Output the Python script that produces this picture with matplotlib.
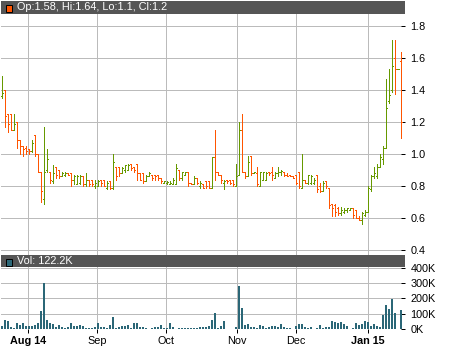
import matplotlib
matplotlib.use('Agg')
import matplotlib.pyplot as plt
from matplotlib.collections import LineCollection
from matplotlib.patches import Rectangle

# ---------------- data ----------------
opens = [1.36, 1.40, 1.25, 1.25, 1.15, 1.20, 1.09, 1.05, 1.04, 1.03,
         1.02, 1.12, 1.00, 0.89, 0.72, 0.90, 0.89, 0.83, 0.92, 0.90,
         0.86, 0.87, 0.88, 0.88, 0.84, 0.81, 0.82, 0.86, 0.81, 0.84,
         0.84, 0.80, 0.80, 0.84, 0.84, 0.79, 0.83, 0.79, 0.92, 0.92,
         0.88, 0.90, 0.90, 0.94, 0.92, 0.94, 0.88, 0.88, 0.83, 0.86,
         0.87, 0.87, 0.87, 0.85, 0.82, 0.82, 0.81, 0.81, 0.81, 0.90,
         0.85, 0.87, 0.89, 0.82, 0.81, 0.85, 0.80, 0.81, 0.83, 0.83,
         0.79, 0.98, 0.89, 0.87, 0.82, 0.84, 0.84, 0.84, 0.80, 0.87,
         1.15, 0.89, 0.86, 0.99, 0.88, 0.88, 0.80, 0.84, 0.84, 0.89,
         0.89, 0.85, 0.88, 0.89, 0.89, 0.87, 0.87, 0.86, 0.87, 0.89,
         0.79, 0.84, 0.82, 0.82, 0.82, 0.87, 0.80, 0.77, 0.83, 0.79,
         0.69, 0.68, 0.66, 0.63, 0.64, 0.65, 0.65, 0.66, 0.65, 0.60,
         0.59, 0.62, 0.64, 0.78, 0.86, 0.86, 0.92, 0.97, 1.04, 1.33,
         1.40, 1.60, 1.53, 1.58]
highs = [1.49, 1.40, 1.25, 1.25, 1.25, 1.20, 1.09, 1.05, 1.05, 1.03,
         1.09, 1.12, 1.00, 0.89, 1.17, 1.03, 0.89, 0.93, 0.92, 0.90,
         0.89, 0.89, 0.88, 0.88, 0.87, 0.87, 0.87, 0.86, 0.88, 0.84,
         0.84, 0.84, 0.84, 0.84, 0.84, 0.83, 0.83, 1.00, 0.92, 0.92,
         0.92, 0.93, 0.94, 0.94, 0.92, 0.94, 0.88, 0.88, 0.87, 0.89,
         0.87, 0.87, 0.87, 0.85, 0.83, 0.83, 0.83, 0.85, 0.94, 0.90,
         0.89, 0.89, 0.89, 0.82, 0.86, 0.85, 0.83, 0.81, 0.83, 0.83,
         0.98, 1.15, 0.89, 0.87, 0.84, 0.84, 0.84, 0.84, 0.94, 1.20,
         1.25, 0.89, 0.99, 0.99, 0.89, 0.92, 0.89, 0.89, 0.89, 0.89,
         0.92, 0.89, 0.92, 0.90, 0.89, 0.88, 0.87, 0.86, 0.87, 0.89,
         1.00, 0.84, 0.87, 0.87, 0.85, 0.87, 0.82, 0.83, 0.83, 0.79,
         0.69, 0.69, 0.67, 0.67, 0.66, 0.66, 0.66, 0.66, 0.65, 0.61,
         0.64, 0.65, 0.80, 0.87, 0.92, 0.94, 1.00, 1.05, 1.47, 1.53,
         1.71, 1.71, 1.53, 1.64]
lows = [1.35, 1.17, 1.14, 1.15, 1.15, 1.04, 1.00, 0.99, 1.00, 1.00,
        1.01, 0.99, 0.89, 0.70, 0.69, 0.89, 0.82, 0.82, 0.85, 0.85,
        0.86, 0.86, 0.87, 0.80, 0.81, 0.81, 0.81, 0.80, 0.80, 0.80,
        0.80, 0.79, 0.80, 0.80, 0.80, 0.78, 0.78, 0.78, 0.84, 0.86,
        0.88, 0.89, 0.90, 0.90, 0.89, 0.84, 0.84, 0.82, 0.83, 0.86,
        0.84, 0.84, 0.84, 0.82, 0.82, 0.81, 0.81, 0.81, 0.81, 0.84,
        0.84, 0.87, 0.80, 0.81, 0.81, 0.81, 0.79, 0.79, 0.79, 0.79,
        0.79, 0.84, 0.87, 0.82, 0.78, 0.82, 0.81, 0.80, 0.80, 0.87,
        0.89, 0.85, 0.86, 0.87, 0.88, 0.80, 0.80, 0.84, 0.84, 0.87,
        0.84, 0.85, 0.86, 0.87, 0.86, 0.86, 0.86, 0.85, 0.81, 0.79,
        0.79, 0.82, 0.81, 0.81, 0.81, 0.76, 0.76, 0.77, 0.79, 0.66,
        0.61, 0.61, 0.62, 0.62, 0.63, 0.64, 0.65, 0.60, 0.60, 0.59,
        0.56, 0.61, 0.64, 0.77, 0.85, 0.85, 0.92, 0.94, 1.04, 1.32,
        1.39, 1.375, 1.53, 1.10]
closes = [1.38, 1.24, 1.19, 1.15, 1.19, 1.09, 1.05, 1.03, 1.02, 1.02,
          1.07, 1.00, 0.89, 0.77, 0.89, 0.97, 0.84, 0.88, 0.87, 0.86,
          0.88, 0.88, 0.87, 0.84, 0.86, 0.86, 0.86, 0.81, 0.84, 0.81,
          0.81, 0.82, 0.83, 0.82, 0.80, 0.82, 0.79, 0.95, 0.86, 0.88,
          0.91, 0.93, 0.93, 0.91, 0.90, 0.88, 0.84, 0.83, 0.86, 0.88,
          0.85, 0.86, 0.85, 0.83, 0.83, 0.825, 0.82, 0.84, 0.91, 0.85,
          0.89, 0.89, 0.82, 0.81, 0.85, 0.82, 0.82, 0.79, 0.80, 0.79,
          0.98, 0.89, 0.87, 0.84, 0.83, 0.83, 0.82, 0.81, 0.86, 1.15,
          0.89, 0.86, 0.95, 0.88, 0.89, 0.81, 0.89, 0.89, 0.88, 0.88,
          0.87, 0.88, 0.89, 0.895, 0.87, 0.865, 0.86, 0.85, 0.82, 0.80,
          0.84, 0.82, 0.87, 0.86, 0.84, 0.78, 0.77, 0.82, 0.80, 0.68,
          0.66, 0.64, 0.63, 0.65, 0.65, 0.66, 0.66, 0.62, 0.60, 0.59,
          0.63, 0.64, 0.79, 0.86, 0.88, 0.92, 0.98, 1.04, 1.29, 1.37,
          1.55, 1.53, 1.53, 1.20]
volumes_k = [19, 57, 51, 13, 6, 38, 26, 38, 19, 19,
             19, 26, 38, 115, 300, 57, 38, 32, 13, 26,
             13, 6, 13, 38, 19, 19, 26, 20, 6, 6,
             6, 13, 38, 13, 13, 6, 26, 77, 6, 13,
             19, 19, 26, 6, 38, 38, 13, 13, 4, 2,
             6, 13, 13, 26, 6, 6, 38, 13, 2, 6,
             6, 6, 6, 6, 6, 6,
             13, 13, 13, 19, 57, 108, 6, 19, 51, 2,
             2, 2, 13, 280, 136, 26, 32, 13, 13, 6,
             26, 19, 6, 13, 19, 19, 13, 32, 13, 6,
             6, 2, 19, 32, 32, 13, 6, 13, 2, 6,
             26, 6, 13, 13, 51, 45, 38, 45, 32, 19,
             2, 6, 38, 26, 32, 51, 45, 19, 32, 19,
             13, 89, 160, 128, 198, 108, 0, 122.2]
month_labels = ['Aug 14', 'Sep', 'Oct', 'Nov', 'Dec', 'Jan 15']
month_pos = [8.8, 31.6, 54.6, 78.2, 97.9, 121.9]
month_bold = [True, False, False, False, False, True]
price_ticks = [0.4, 0.6, 0.8, 1.0, 1.2, 1.4, 1.6, 1.8]
vol_ticks = [0, 100, 200, 300, 400]
price_header = 'Op:1.58, Hi:1.64, Lo:1.1, Cl:1.2'
vol_header = 'Vol: 122.2K'

# ---------------- style ----------------
UP = '#669900'
DOWN = '#ff5500'
VOLC = '#2b6777'
GRID = '#bbbbbb'
HEAD = '#555555'
FONT = 'Liberation Sans'
FS = 7.8

W, H = 450, 350
fig = plt.figure(figsize=(W / 100, H / 100), dpi=100)
fig.patch.set_facecolor('white')


def rect(x0, y0, x1, y1):
    return [x0 / W, (H - y1) / H, (x1 - x0) / W, (y1 - y0) / H]


axp = fig.add_axes(rect(1, 14, 405, 255))
axv = fig.add_axes(rect(1, 267, 405, 329))

n = len(closes)
xmin, xmax = -1 / 3, n + 1 / 3

lw = 0.72
for ax in (axp, axv):
    ax.set_xlim(xmin, xmax)
    for s in ax.spines.values():
        s.set_visible(False)
    ax.set_facecolor('white')
    for m in month_pos:
        ax.axvline(m, color=GRID, lw=lw, zorder=0, antialiased=False)

# price panel
axp.set_ylim(1.8 - (255 - 26) / 160, 1.8 + (26 - 14) / 160)
for t in price_ticks:
    axp.axhline(t, color=GRID, lw=lw, zorder=0, antialiased=False)

segs, cols = [], []
for i, (o, h, l, c) in enumerate(zip(opens, highs, lows, closes)):
    col = UP if c >= o else DOWN
    segs.append([(i, l), (i, h)])
    segs.append([(i - 1 / 3, o), (i, o)])
    segs.append([(i, c), (i + 1 / 3, c)])
    cols += [col] * 3
lc = LineCollection(segs, colors=cols, linewidths=lw, antialiaseds=False, zorder=3)
axp.add_collection(lc)

axp.yaxis.tick_right()
axp.set_yticks(price_ticks)
axp.set_yticklabels(['%.1f' % t for t in price_ticks], fontsize=FS, family=FONT)
axp.tick_params(axis='y', direction='in', length=3, width=lw, pad=4, colors='black')
axp.set_xticks([])

# volume panel
axv.set_ylim(0, 400 + 100 / 15.3)
for t in vol_ticks:
    axv.axhline(t, color=GRID, lw=lw, zorder=0, antialiased=False)
axv.bar(range(n), volumes_k, width=0.67, color=VOLC, zorder=3, linewidth=0)
axv.yaxis.tick_right()
axv.set_yticks(vol_ticks)
axv.set_yticklabels(['%dK' % t for t in vol_ticks], fontsize=FS, family=FONT)
axv.tick_params(axis='y', direction='in', length=3, width=lw, pad=4, colors='black')
axv.set_xticks(month_pos)
axv.set_xticklabels(month_labels, fontsize=FS, family=FONT)
for lab, b in zip(axv.get_xticklabels(), month_bold):
    if b:
        lab.set_fontweight('bold')
axv.tick_params(axis='x', direction='out', length=3, width=lw, pad=2, colors='black')


# headers
def header(y0, y1, text, icol):
    fig.add_artist(Rectangle((1 / W, (H - y1) / H), 404 / W, (y1 - y0) / H,
                             transform=fig.transFigure, facecolor=HEAD,
                             edgecolor='none', zorder=5))
    fig.add_artist(Rectangle((5.5 / W, (H - (y0 + 10.5)) / H), 6.5 / W, 6.5 / H,
                             transform=fig.transFigure, facecolor=icol,
                             edgecolor='black', linewidth=lw, zorder=6))
    fig.text(17 / W, (H - (y0 + y1) / 2) / H, text, color='white', fontsize=FS,
             family=FONT, va='center', ha='left', zorder=7)


header(1, 14, price_header, DOWN)
header(255, 267, vol_header, VOLC)

fig.savefig('out.png', dpi=100)
